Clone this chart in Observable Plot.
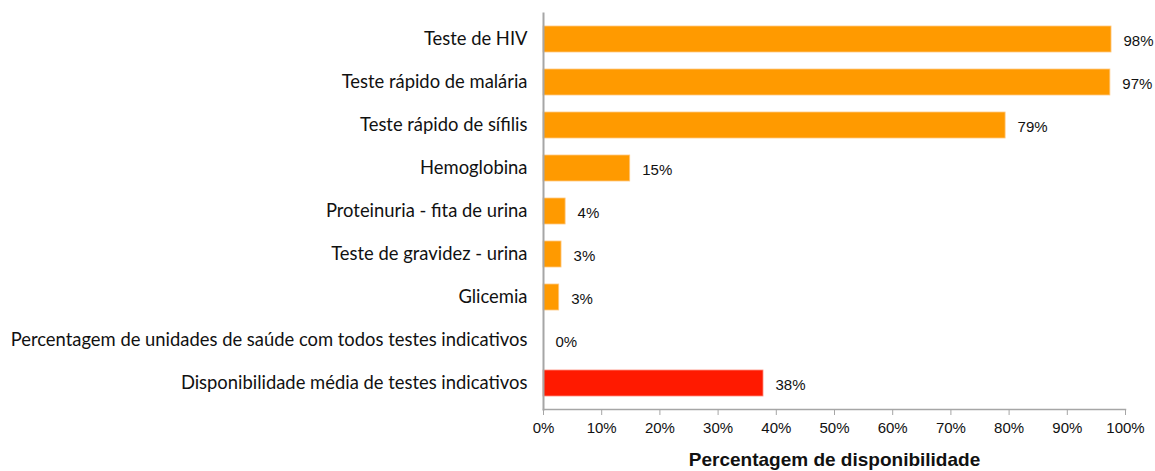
<!DOCTYPE html>
<html>
<head>
<meta charset="utf-8">
<script src="https://cdn.jsdelivr.net/npm/d3@7"></script>
<script src="https://cdn.jsdelivr.net/npm/@observablehq/plot@0.6"></script>
<style>
  html, body { margin: 0; padding: 0; background: #fff; }
</style>
</head>
<body>
<div id="chart"></div>
<script>
const categories = [
  "Teste de HIV",
  "Teste rápido de malária",
  "Teste rápido de sífilis",
  "Hemoglobina",
  "Proteinuria - fita de urina",
  "Teste de gravidez - urina",
  "Glicemia",
  "Percentagem de unidades de saúde com todos testes indicativos",
  "Disponibilidade média de testes indicativos"
];
const values = [97.6, 97.4, 79.4, 14.9, 3.8, 3.1, 2.7, 0, 37.8];
const highlight = [false, false, false, false, false, false, false, false, true];
const xTicks = [0, 10, 20, 30, 40, 50, 60, 70, 80, 90, 100];
const xTitle = "Percentagem de disponibilidade";

const data = categories.map((c, i) => ({category: c, value: values[i], hi: highlight[i]}));

const chart = Plot.plot({
  width: 1155,
  height: 471,
  marginLeft: 543,
  marginRight: 30,
  marginTop: 13,
  marginBottom: 62,
  style: {background: "#fff"},
  x: {domain: [0, 100], ticks: xTicks},
  y: {domain: categories, paddingInner: 0.39, paddingOuter: 0.215},
  marks: [
    Plot.barX(data, {
      x: "value", y: "category",
      fill: d => d.hi ? "#FF1A00" : "#FF9A00",
      stroke: d => d.hi ? "#ff8a7a" : "#ffc880",
      strokeWidth: 0.8
    }),
    Plot.text(data, {
      x: "value", y: "category",
      text: d => Math.round(d.value) + "%",
      textAnchor: "start", dx: 12, dy: 2,
      fontSize: 15, fontFamily: "Liberation Sans, Arial", fill: "#111"
    }),
    Plot.frame({anchor: "left", stroke: "#a6a6a6", strokeWidth: 2}),
    Plot.frame({anchor: "bottom", stroke: "#a6a6a6", strokeWidth: 1.5}),
    Plot.axisX({
      ticks: xTicks, tickSize: 6, tickPadding: 7,
      tickFormat: d => d + "%", label: null,
      stroke: "#a6a6a6",
      fontSize: 15, fontFamily: "Liberation Sans, Arial", fill: "#111"
    }),
    Plot.axisY({
      tickSize: 0, tickPadding: 16, label: null,
      fontSize: 18.4, fontFamily: "Lato", fill: "#111"
    }),
    Plot.text([xTitle], {
      frameAnchor: "bottom", dy: 56,
      fontSize: 19, fontWeight: "bold",
      fontFamily: "Liberation Sans, Arial", fill: "#111"
    })
  ]
});
document.getElementById("chart").appendChild(chart);
</script>
</body>
</html>
